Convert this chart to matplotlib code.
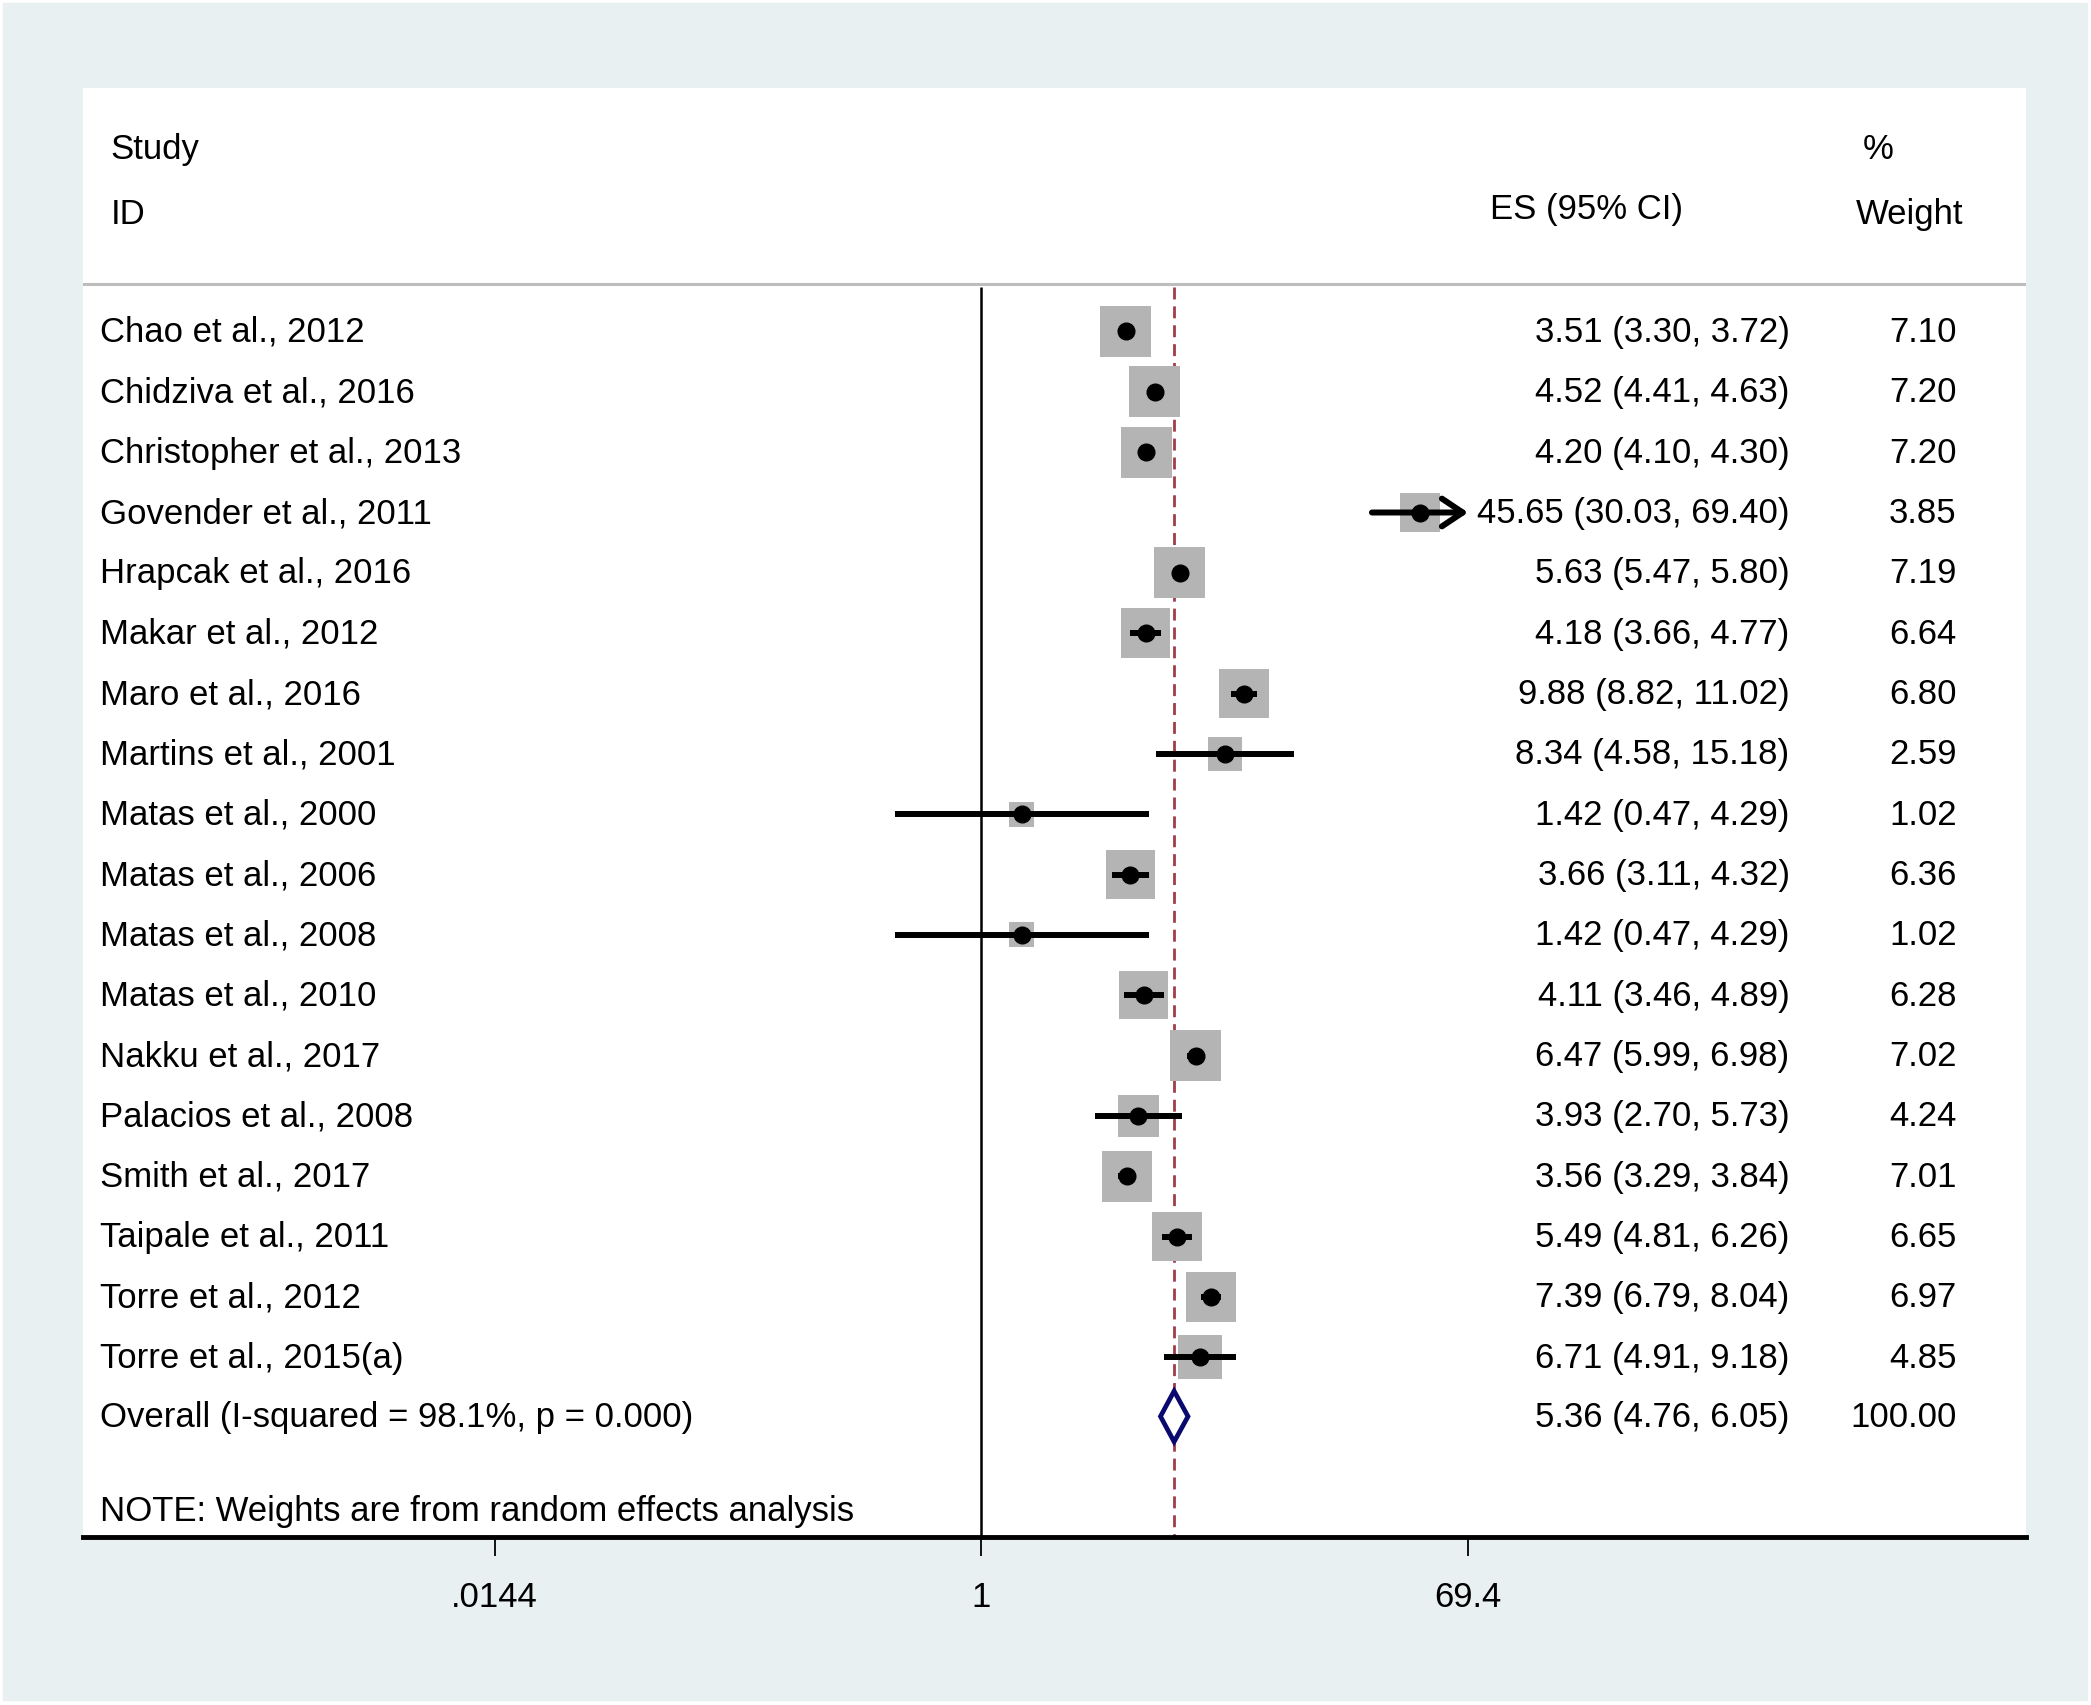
import numpy as np
import matplotlib
matplotlib.use("Agg")
import matplotlib.pyplot as plt
from matplotlib.patches import Polygon, Rectangle

studies = ["Chao et al., 2012", "Chidziva et al., 2016", "Christopher et al., 2013",
           "Govender et al., 2011", "Hrapcak et al., 2016", "Makar et al., 2012",
           "Maro et al., 2016", "Martins et al., 2001", "Matas et al., 2000",
           "Matas et al., 2006", "Matas et al., 2008", "Matas et al., 2010",
           "Nakku et al., 2017", "Palacios et al., 2008", "Smith et al., 2017",
           "Taipale et al., 2011", "Torre et al., 2012", "Torre et al., 2015(a)"]
es = [3.51, 4.52, 4.20, 45.65, 5.63, 4.18, 9.88, 8.34, 1.42, 3.66, 1.42, 4.11,
      6.47, 3.93, 3.56, 5.49, 7.39, 6.71]
lo = [3.30, 4.41, 4.10, 30.03, 5.47, 3.66, 8.82, 4.58, 0.47, 3.11, 0.47, 3.46,
      5.99, 2.70, 3.29, 4.81, 6.79, 4.91]
hi = [3.72, 4.63, 4.30, 69.40, 5.80, 4.77, 11.02, 15.18, 4.29, 4.32, 4.29, 4.89,
      6.98, 5.73, 3.84, 6.26, 8.04, 9.18]
weight = [7.10, 7.20, 7.20, 3.85, 7.19, 6.64, 6.80, 2.59, 1.02, 6.36, 1.02, 6.28,
          7.02, 4.24, 7.01, 6.65, 6.97, 4.85]

overall_label = "Overall (I-squared = 98.1%, p = 0.000)"
overall_es, overall_lo, overall_hi, overall_w = 5.36, 4.76, 6.05, 100.00

tick_vals = [0.0144, 1, 69.4]
tick_labels = [".0144", "1", "69.4"]

W, H = 2091, 1706
bg = "#e8f0f1"
plt.rcParams["font.family"] = ["Liberation Sans", "DejaVu Sans"]
fs = 25

fig = plt.figure(figsize=(W / 100, H / 100), dpi=100, facecolor="white")
fig.patches.append(Rectangle((3 / W, 5 / H), (W - 7) / W, (H - 9) / H,
                             transform=fig.transFigure, color=bg, zorder=-10))
ax = fig.add_axes([82.7 / W, 1 - 1537.5 / H, 1942.9 / W, 1448.2 / H])
ax.set_facecolor("white")

ax.set_xscale("log")
ax.set_xlim(np.exp(-7.828), np.exp(9.096))
ax.set_ylim(20.0, -4.0)

n = len(studies)
rows = np.arange(n) + 0.03

# boxes sized by weight
side_pt = 0.72 * (9 + 15.7 * np.sqrt(np.array(weight)))
ax.scatter(es, rows, s=side_pt ** 2, marker="s", color="#b4b4b4",
           edgecolors="none", zorder=2)

# confidence intervals, clipped at the axis range with an arrow
xmin_t, xmax_t = tick_vals[0], tick_vals[-1]
for i in range(n):
    l, h = lo[i], hi[i]
    y = rows[i]
    if h >= xmax_t:
        ax.annotate("", xy=(xmax_t, y), xytext=(max(l, xmin_t), y),
                    arrowprops=dict(arrowstyle="->,head_length=0.75,head_width=0.5",
                                    mutation_scale=20, color="black", lw=4.3,
                                    shrinkA=0, shrinkB=0),
                    zorder=3)
    elif l <= xmin_t:
        ax.annotate("", xy=(xmin_t, y), xytext=(h, y),
                    arrowprops=dict(arrowstyle="->,head_length=0.75,head_width=0.5",
                                    mutation_scale=20, color="black", lw=4.3,
                                    shrinkA=0, shrinkB=0), zorder=3)
    else:
        ax.hlines(y, l, h, color="black", lw=4.3, zorder=3)
ax.plot(es, rows, "o", color="black", ms=12, zorder=4)

# overall diamond
yo = n + 0.01
dh = 0.42
ax.add_patch(Polygon([(overall_lo, yo), (overall_es, yo - dh), (overall_hi, yo),
                      (overall_es, yo + dh)], closed=True, facecolor="white",
                     edgecolor="#0a0a6e", lw=3.4, zorder=5))

# reference lines
ax.vlines(1, -0.71, 20.0, color="black", lw=1.8, zorder=1)
ax.vlines(overall_es, -0.71, 20.0, color="#a03c4b", lw=2.0,
          linestyles=(0, (4.3, 2.5)), zorder=1)
ax.axhline(-0.75, color="#bdbdbd", lw=2.2)

# text columns
tr = ax.get_yaxis_transform()
for i in range(n):
    y = rows[i]
    ax.text(0.0089, y, studies[i], transform=tr, fontsize=fs, va="center", ha="left")
    ax.text(0.8785, y, f"{es[i]:.2f} ({lo[i]:.2f}, {hi[i]:.2f})", transform=tr,
            fontsize=fs, va="center", ha="right")
    ax.text(0.9645, y, f"{weight[i]:.2f}", transform=tr, fontsize=fs,
            va="center", ha="right")
ax.text(0.0089, yo, overall_label, transform=tr, fontsize=fs,
        va="center", ha="left")
ax.text(0.8785, yo, f"{overall_es:.2f} ({overall_lo:.2f}, {overall_hi:.2f})",
        transform=tr, fontsize=fs, va="center", ha="right")
ax.text(0.9645, yo, f"{overall_w:.2f}", transform=tr, fontsize=fs,
        va="center", ha="right")
ax.text(0.0089, 19.57, "NOTE: Weights are from random effects analysis",
        transform=tr, fontsize=fs, va="center", ha="left")

# headers
ax.text(0.0144, -3.0, "Study", transform=tr, fontsize=fs, va="center", ha="left")
ax.text(0.0144, -1.93, "ID", transform=tr, fontsize=fs, va="center", ha="left")
ax.text(0.8236, -2.0, "ES (95% CI)", transform=tr, fontsize=fs, va="center", ha="right")
ax.text(0.9163, -3.0, "%", transform=tr, fontsize=fs, va="center", ha="left")
ax.text(0.9128, -1.93, "Weight", transform=tr, fontsize=fs, va="center", ha="left")

# axis
for s in ["top", "left", "right"]:
    ax.spines[s].set_visible(False)
ax.spines["bottom"].set_linewidth(3.5)
ax.set_yticks([])
ax.set_xticks(tick_vals)
ax.set_xticklabels(tick_labels)
ax.xaxis.set_minor_locator(matplotlib.ticker.NullLocator())
ax.tick_params(axis="x", direction="out", length=14, width=1.3, pad=17,
               labelsize=fs)

fig.savefig("out.png", dpi=100, facecolor=fig.get_facecolor())
